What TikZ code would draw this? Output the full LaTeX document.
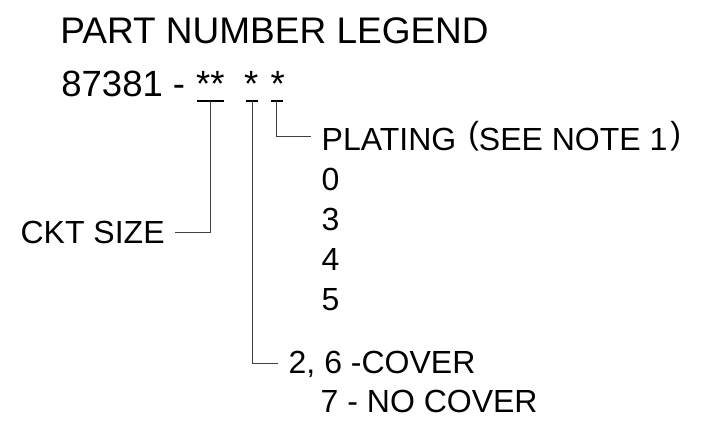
\documentclass[tikz,border=0pt]{standalone}
\usepackage{fontspec}
\setmainfont{Liberation Sans}
\begin{document}
\begin{tikzpicture}[x=1pt,y=-1pt,
  lbl/.style={anchor=base west, inner sep=0pt, font=\fontsize{32}{36}\selectfont},
  ttl/.style={anchor=base west, inner sep=0pt, font=\fontsize{37}{40}\selectfont},
  numtxt/.style={anchor=base west, inner sep=0pt, font=\fontsize{36.5}{40}\selectfont},
  bar/.style={line width=2pt},
  lead/.style={line width=0.9pt, draw=black!75}]
\useasboundingbox (0,0) rectangle (714,428);
% title and part number
\node[ttl] (title) at (60.2,44) {PART NUMBER LEGEND};
\node[numtxt] (pn) at (61.2,96) {87381 -};
\node[numtxt] (s1) at (196,96) {**};
\node[numtxt] (s2) at (244,96) {*};
\node[numtxt] (s3) at (270.5,96) {*};
% underbars
\coordinate (b1l) at (197,101); \coordinate (b1r) at (224,101);
\coordinate (b2l) at (246,101); \coordinate (b2r) at (258,101);
\coordinate (b3l) at (271,101); \coordinate (b3r) at (283,101);
\draw[bar] (b1l) -- (b1r);
\draw[bar] (b2l) -- (b2r);
\draw[bar] (b3l) -- (b3r);
\coordinate (b1) at (210,101);
\coordinate (b2) at (252.7,101);
\coordinate (b3) at (276,101);
% labels
\node[lbl] (plat) at (321.5,150) {PLATING\hspace{12pt}\raisebox{5.5pt}{(}SEE NOTE 1\hspace{3pt}\raisebox{5.5pt}{)}};
\node[lbl] (p0) at (321.5,190) {0};
\node[lbl] (p3) at (321.5,230) {3};
\node[lbl] (p4) at (321.5,270) {4};
\node[lbl] (p5) at (321.5,310) {5};
\node[lbl] (ckt) at (20.4,243) {CKT SIZE};
\node[lbl] (cov) at (288.5,373) {2, 6 -COVER};
\node[lbl] (nocov) at (320.5,412) {7 - NO COVER};
% leaders
\coordinate (e1) at ([xshift=10.5pt]ckt.east);
\coordinate (e2) at ([xshift=-10.5pt]cov.west);
\coordinate (e3) at ([xshift=-10.5pt]plat.west);
\draw[lead] (b1) |- (e1);
\draw[lead] (b2) |- (e2);
\draw[lead] (b3) |- (e3);
\end{tikzpicture}
\end{document}
